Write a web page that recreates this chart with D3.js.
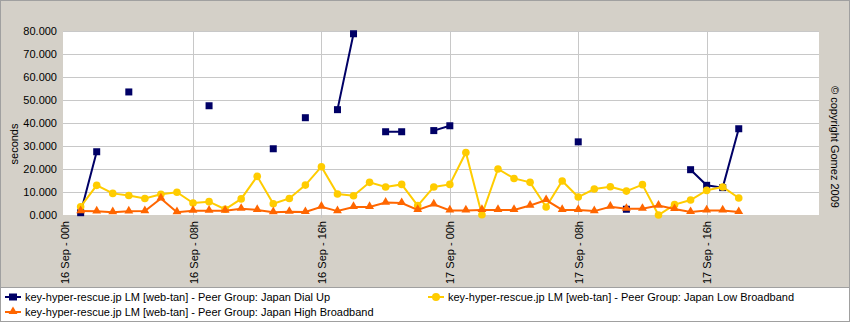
<!DOCTYPE html>
<html><head><meta charset="utf-8">
<script src="https://cdn.jsdelivr.net/npm/d3@7"></script>
<style>body{margin:0;background:#fff}svg{display:block}text{font-family:Arial,"Liberation Sans",sans-serif}</style>
</head><body><svg id="c" width="850" height="322"></svg>
<script>
const hours = [1,2,3,4,5,6,7,8,9,10,11,12,13,14,15,16,17,18,19,20,21,22,23,24,25,26,27,28,29,30,31,32,33,34,35,36,37,38,39,40,41,42];
const dialUp = [1.0,27.5,null,53.5,null,null,null,null,47.5,null,null,null,28.8,null,42.3,null,45.8,78.8,null,36.2,36.2,null,36.7,38.8,null,null,null,null,null,null,null,31.8,null,null,2.5,null,null,null,19.7,12.9,11.9,37.5];
const lowBroadband = [3.6,12.9,9.4,8.5,7.2,9.0,9.9,5.2,5.8,2.5,7.0,16.8,4.9,7.2,13.0,21.0,9.1,8.4,14.2,12.2,13.3,4.1,12.2,13.3,27.2,0.1,20.0,15.9,14.2,3.5,14.8,7.8,11.3,12.3,10.4,13.2,0.0,4.5,6.5,10.7,12.2,7.4];
const highBroadband = [1.7,1.6,1.2,1.6,1.7,7.2,1.2,1.9,1.9,1.9,2.7,2.2,1.2,1.4,1.3,3.6,1.7,3.5,3.5,5.4,5.2,2.2,4.6,2.0,2.0,2.2,2.2,2.2,4.1,6.5,2.2,2.2,1.7,3.6,2.7,2.7,4.1,2.6,1.3,2.0,2.0,1.3];
const tickHours = [0,8,16,24,32,40];
const tickLabels = ["16 Sep - 00h","16 Sep - 08h","16 Sep - 16h","17 Sep - 00h","17 Sep - 08h","17 Sep - 16h"];
const yTicks = [0,10,20,30,40,50,60,70,80];
const seriesNames = ["key-hyper-rescue.jp LM [web-tan] - Peer Group: Japan Dial Up","key-hyper-rescue.jp LM [web-tan] - Peer Group: Japan Low Broadband","key-hyper-rescue.jp LM [web-tan] - Peer Group: Japan High Broadband"];
const seriesColors = ["#000066","#ffcc00","#ff6600"];

const svg = d3.select("#c");
svg.append("rect").attr("x",0.5).attr("y",0.5).attr("width",849).attr("height",321).attr("fill","#d4d0c8").attr("stroke","#a0a0a0");

const x = d3.scaleLinear().domain([-0.1,47]).range([63,819]);
const y = d3.scaleLinear().domain([0,80]).range([215,31]);

svg.append("rect").attr("x",63).attr("y",31).attr("width",756).attr("height",184).attr("fill","#fff");

// gridlines
const g = svg.append("g");
g.selectAll("line.h").data(yTicks.slice(1)).join("line")
  .attr("x1",63).attr("x2",819).attr("y1",d=>Math.round(y(d))+0.5).attr("y2",d=>Math.round(y(d))+0.5)
  .attr("stroke","#c8c8c8");
g.selectAll("line.v").data(tickHours.slice(1)).join("line")
  .attr("x1",d=>Math.round(x(d))+0.5).attr("x2",d=>Math.round(x(d))+0.5).attr("y1",31).attr("y2",218)
  .attr("stroke","#c8c8c8");

// y axis labels
const yAxis = d3.axisLeft(y).tickValues(yTicks).tickFormat(d3.format(".3f")).tickSize(0).tickPadding(0);
const ya = svg.append("g").attr("transform","translate(57,0)").call(yAxis);
ya.select(".domain").remove();
ya.selectAll("text").attr("font-size",11).attr("fill","#000").style("font-family","Arial, 'Liberation Sans', sans-serif");

// x axis labels
const xAxis = d3.axisBottom(x).tickValues(tickHours).tickFormat((d,i)=>tickLabels[i]).tickSize(0).tickPadding(0);
const xa = svg.append("g").attr("transform","translate(0,221)").call(xAxis);
xa.select(".domain").remove();
xa.selectAll("text").attr("font-size",11).attr("fill","#000").style("font-family","Arial, 'Liberation Sans', sans-serif")
  .attr("text-anchor","end").attr("dy",0).attr("y",0).attr("x",0)
  .attr("transform","rotate(-90) translate(0,4)");

svg.append("text").attr("transform","translate(18,144) rotate(-90)").attr("text-anchor","middle")
  .attr("font-size",11).text("seconds");
svg.append("text").attr("transform","translate(831,147) rotate(90)").attr("text-anchor","middle")
  .attr("font-size",11).text("\u00a9 copyright Gomez 2009");

const data = [dialUp, lowBroadband, highBroadband];
const line = d3.line().defined(d=>d.v!=null).x(d=>x(d.h)).y(d=>y(d.v));
const tri = d3.symbol().type(d3.symbolTriangle).size(34);

data.forEach((vals,si)=>{
  const pts = hours.map((h,i)=>({h, v:vals[i]}));
  const sg = svg.append("g");
  sg.append("path").datum(pts).attr("d",line).attr("fill","none").attr("stroke",seriesColors[si]).attr("stroke-width",2);
  const dp = pts.filter(d=>d.v!=null);
  if(si===0){
    sg.selectAll("rect").data(dp).join("rect").attr("x",d=>x(d.h)-3.5).attr("y",d=>y(d.v)-3.5).attr("width",7).attr("height",7).attr("fill",seriesColors[si]);
  } else if(si===1){
    sg.selectAll("circle").data(dp).join("circle").attr("cx",d=>x(d.h)).attr("cy",d=>y(d.v)).attr("r",3.8).attr("fill",seriesColors[si]);
  } else {
    sg.selectAll("path.m").data(dp).join("path").attr("class","m").attr("d",tri).attr("transform",d=>`translate(${x(d.h)},${y(d.v)-0.5})`).attr("fill",seriesColors[si]);
  }
});

// legend
svg.append("rect").attr("x",1).attr("y",287.5).attr("width",848).attr("height",33.5).attr("fill","#fff");
svg.append("line").attr("x1",1).attr("x2",849).attr("y1",287.5).attr("y2",287.5).attr("stroke","#a0a0a0");
const legPos = [[5,297],[428,297],[5,312]];
legPos.forEach((p,i)=>{
  const lg = svg.append("g").attr("transform",`translate(${p[0]},${p[1]})`);
  lg.append("line").attr("x1",0).attr("x2",16).attr("y1",0).attr("y2",0).attr("stroke",seriesColors[i]).attr("stroke-width",2);
  if(i===0) lg.append("rect").attr("x",4).attr("y",-3.5).attr("width",8).attr("height",7).attr("fill",seriesColors[i]);
  else if(i===1) lg.append("circle").attr("cx",8).attr("cy",0).attr("r",4).attr("fill",seriesColors[i]);
  else lg.append("path").attr("d",tri).attr("transform","translate(8,-0.5)").attr("fill",seriesColors[i]);
  lg.append("text").attr("x",20).attr("y",4).attr("font-size",11).text(seriesNames[i]);
});
</script></body></html>
